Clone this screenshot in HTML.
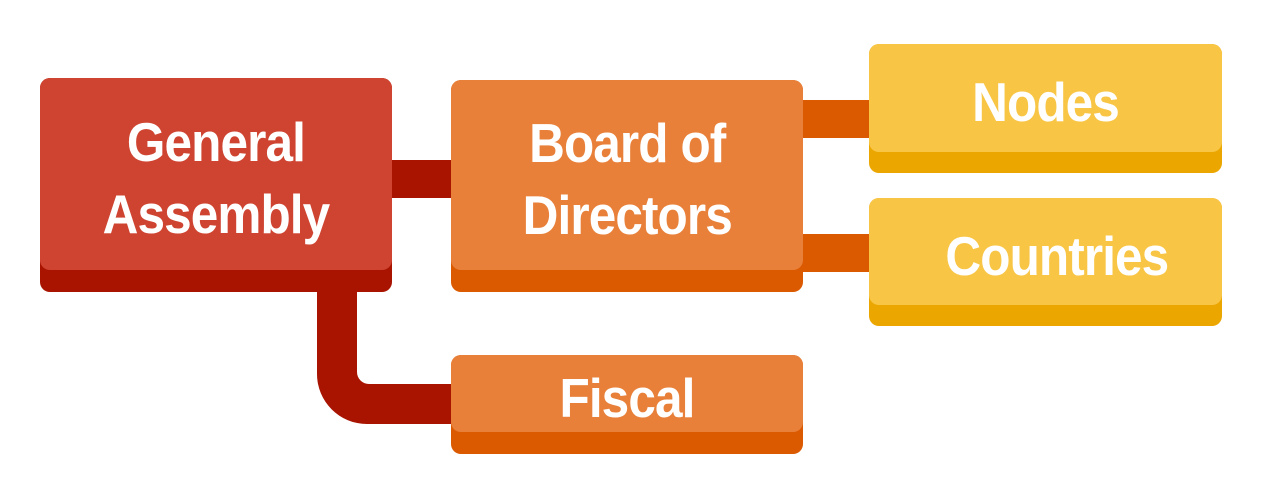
<!DOCTYPE html>
<html><head><meta charset="utf-8"><style>
body{margin:0;width:1263px;height:499px;background:#fff;position:relative;overflow:hidden;font-family:"Liberation Sans",sans-serif;}
.b{position:absolute;border-radius:10px;}
.b .t{position:absolute;left:0;top:0;right:0;border-radius:10px;display:flex;align-items:center;justify-content:center;text-align:center;color:#fff;font-weight:bold;font-size:55px;line-height:72px;letter-spacing:-1px;}
.b .t span{display:inline-block;transform:scaleX(0.9);padding-top:8px;}
.c{position:absolute;}
</style></head><body>
<div class="c" style="left:380px;top:160px;width:80px;height:38px;background:#A81400"></div>
<div class="c" style="left:795px;top:100px;width:80px;height:38px;background:#DB5A00"></div>
<div class="c" style="left:795px;top:234px;width:80px;height:38px;background:#DB5A00"></div>
<svg class="c" style="left:0;top:0" width="1263" height="499"><path d="M317 280 V374 A50 50 0 0 0 367 424 H460 V384 H369 A12 12 0 0 1 357 372 V280 Z" fill="#A81400"/></svg>
<div class="b" style="left:40px;top:78px;width:352px;height:214px;background:#A81400"><div class="t" style="height:192px;background:#CF4431"><span>General<br>Assembly</span></div></div>
<div class="b" style="left:451px;top:80px;width:352px;height:212px;background:#DB5A00"><div class="t" style="height:190px;background:#E8803A"><span>Board of<br>Directors</span></div></div>
<div class="b" style="left:869px;top:44px;width:353px;height:129px;background:#EBA600"><div class="t" style="height:108px;background:#F8C545"><span>Nodes</span></div></div>
<div class="b" style="left:869px;top:198px;width:353px;height:128px;background:#EBA600"><div class="t" style="height:107px;background:#F8C545"><span style="margin-left:22px">Countries</span></div></div>
<div class="b" style="left:451px;top:355px;width:352px;height:99px;background:#DB5A00"><div class="t" style="height:77px;background:#E8803A"><span>Fiscal</span></div></div>
</body></html>
